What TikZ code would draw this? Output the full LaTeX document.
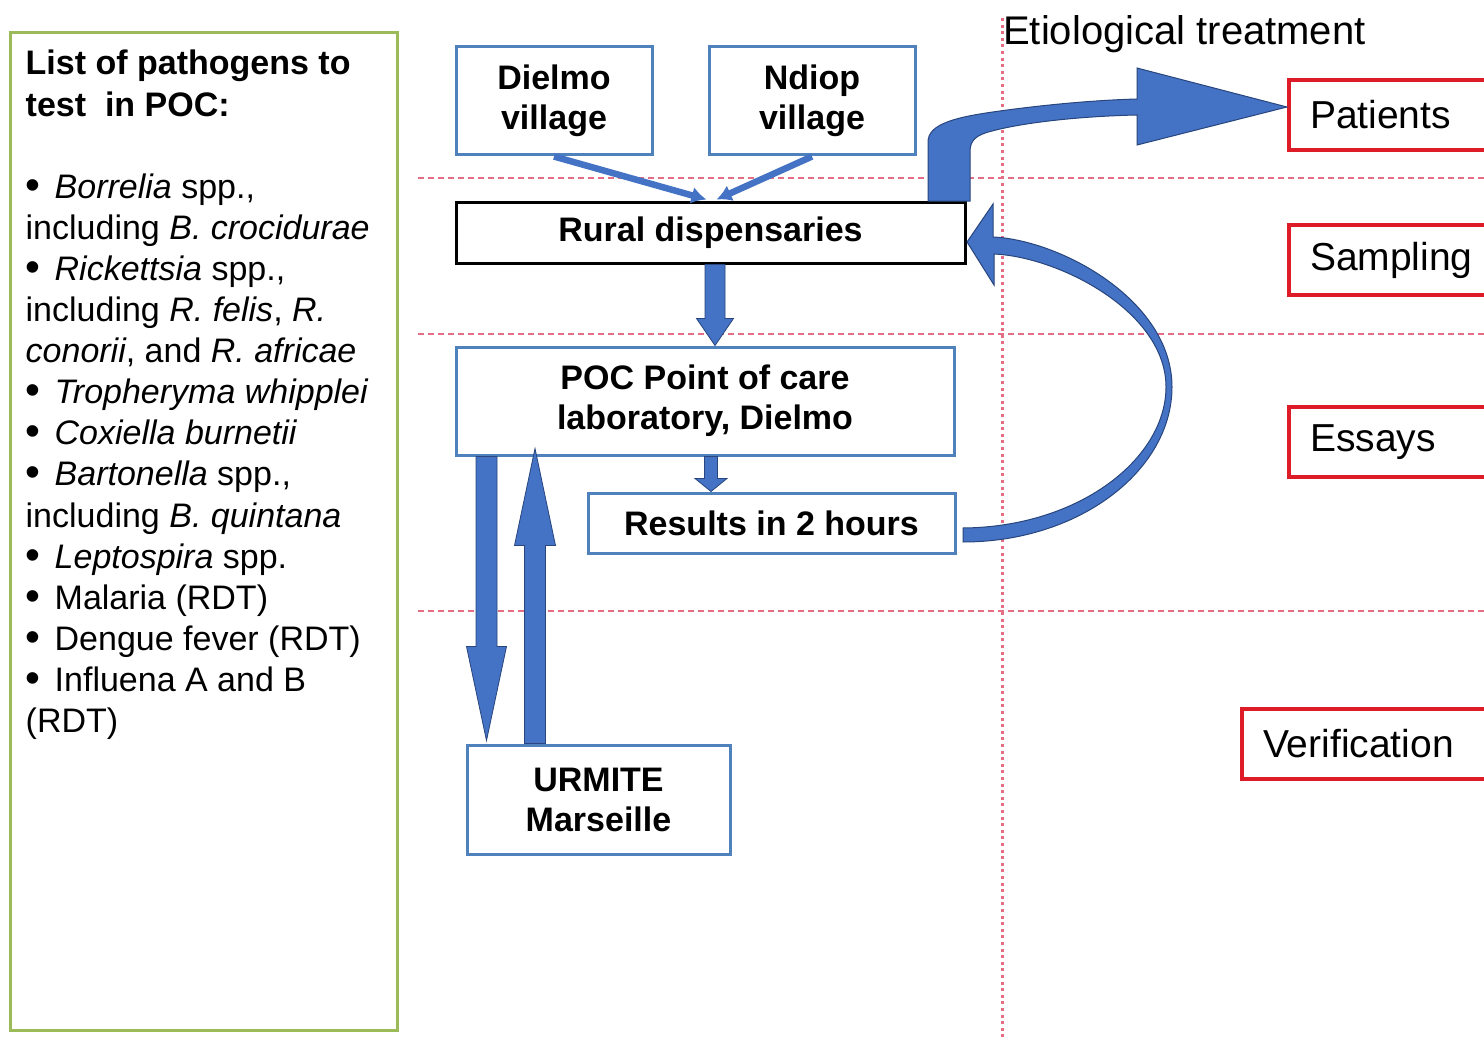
\documentclass[tikz,border=0pt]{standalone}
\usepackage{fontspec}
\setmainfont{Liberation Sans}
\usetikzlibrary{calc,arrows.meta}
\definecolor{boxblue}{RGB}{79,129,189}
\definecolor{arrblue}{RGB}{68,114,196}
\definecolor{arrdark}{RGB}{40,70,125}
\definecolor{boxgreen}{RGB}{155,187,89}
\definecolor{boxred}{RGB}{222,28,40}
\definecolor{guide}{RGB}{228,110,132}
\newcommand\pbul{\makebox[29pt][l]{\raisebox{-1pt}{\scalebox{1.25}{•}}}}
\newcommand\varrow[5]{\filldraw[blockarr] let \p1=#1, \p2=#2, \n1={sign(\y2-\y1)} in
 ({\x1-#3pt},\y1) -- ({\x1-#3pt},{\y2-(\n1)*#5pt}) -- ({\x1-#4pt},{\y2-(\n1)*#5pt}) -- (\x1,\y2) -- ({\x1+#4pt},{\y2-(\n1)*#5pt}) -- ({\x1+#3pt},{\y2-(\n1)*#5pt}) -- ({\x1+#3pt},\y1) -- cycle;}
\begin{document}
\begin{tikzpicture}[x=1pt,y=-1pt,
  bluebox/.style={draw=boxblue,line width=3pt,fill=white,inner sep=0pt,align=center,
     font=\bfseries\fontsize{34}{40}\selectfont},
  blackbox/.style={bluebox,draw=black},
  redbox/.style={draw=boxred,line width=3.5pt,fill=white,inner ysep=0pt,align=left,
     font=\fontsize{39}{44}\selectfont},
  hguide/.style={draw=guide,line width=1.6pt,dash pattern=on 6pt off 4pt},
  vguide/.style={draw=guide,line width=3pt,dash pattern=on 3pt off 3.6pt},
  thinarr/.style={draw=arrblue,line width=6.5pt,-{Latex[length=15pt,width=17pt]}},
  blockarr/.style={fill=arrblue,draw=arrdark,line width=0.8pt,line join=miter},
  curvearr/.style={fill=arrblue,draw=arrdark,line width=1pt,line join=miter}]
\useasboundingbox (0,0) rectangle (1484,1038);
\fill[white] (0,0) rectangle (1484,1038);
\clip (0,0) rectangle (1484,1038);

% guides
\draw[hguide] (418,178) -- (1484,178);
\draw[hguide] (418,334) -- (1484,334);
\draw[hguide] (418,611) -- (1484,611);
\draw[vguide] (1002,18) -- (1002,1038);

% left list
\node[draw=boxgreen,line width=3pt,minimum width=387,minimum height=997,inner sep=0pt] (listbox) at (203.5,531.5) {};
\node[anchor=base west,inner sep=0pt] (listtext) at (25.5,75) {\parbox[t]{370pt}{\fontsize{34}{41.1}\selectfont
\textbf{List of pathogens to}\\
\textbf{test~~in POC:}\\[41.1pt]
\pbul\textit{Borrelia} spp.,\\
including \textit{B. crocidurae}\\
\pbul\textit{Rickettsia} spp.,\\
including \textit{R. felis}, \textit{R.}\\
\textit{conorii}, and \textit{R. africae}\\
\pbul\textit{Tropheryma whipplei}\\
\pbul\textit{Coxiella burnetii}\\
\pbul\textit{Bartonella} spp.,\\
including \textit{B. quintana}\\
\pbul\textit{Leptospira} spp.\\
\pbul Malaria (RDT)\\
\pbul Dengue fever (RDT)\\
\pbul Influena A and B\\
(RDT)}};

% middle boxes
\node[bluebox,minimum width=196,minimum height=108] (dielmo) at (554,101) {Dielmo\\village};
\node[bluebox,minimum width=206,minimum height=108] (ndiop) at (812,101) {Ndiop\\village};
\node[blackbox,minimum width=509,minimum height=61] (rural) at (710.5,232.5) {Rural dispensaries};
\node[bluebox,minimum width=498,minimum height=108] (poc) at (705,401) {POC Point of care\\laboratory, Dielmo};
\node[bluebox,minimum width=367,minimum height=60] (results) at (771.5,523) {Results in 2 hours};
\node[bluebox,minimum width=263,minimum height=109] (urmite) at (598.5,799.5) {URMITE\\Marseille};

% right column
\node[anchor=base west,inner sep=0pt,font=\fontsize{40}{46}\selectfont] (etio) at (1003,45) {Etiological treatment};
\node[redbox,minimum width=271,minimum height=70,text width=229pt,inner xsep=21pt] (patients) at (1424.5,115) {Patients};
\node[redbox,minimum width=271,minimum height=70,text width=229pt,inner xsep=21pt] (sampling) at (1424.5,260) {Sampling};
\node[redbox,minimum width=271,minimum height=70,text width=229pt,inner xsep=21pt] (essays) at (1424.5,442) {Essays};
\node[redbox,minimum width=318,minimum height=70,text width=276pt,inner xsep=21pt] (verif) at (1401,744) {Verification};

% connectors
\draw[thinarr] (dielmo.south) -- ($(rural.north)+(-4,-1)$);
\draw[thinarr] (ndiop.south) -- ($(rural.north)+(6,-1)$);
\varrow{($(rural.south)+(4.5,0)$)}{(poc.north)}{10}{18.5}{27}
\varrow{($(poc.south)+(6,0)$)}{(results.north)}{6.5}{16}{13}
\varrow{($(poc.south west)+(32,0)$)}{($(urmite.north)+(0,-3)$)}{10.5}{20}{94}
\varrow{($(urmite.north west)+(69.5,0)$)}{($(poc.south)+(0,-8)$)}{10.5}{20.5}{97}

% rural -> patients
\filldraw[curvearr] (928,201) -- (928,142) .. controls (928,124) and (955,117) .. (1000,111)
  .. controls (1050,104) and (1100,100) .. (1137,99) -- (1137,68) -- (1287,107) -- (1137,145)
  -- (1137,115) .. controls (1090,116) and (1030,121) .. (992,131)
  .. controls (976,135) and (970,140) .. (970,152) -- (970,201) -- cycle;

% results -> rural
\filldraw[curvearr] (963,542) .. controls (1080,542) and (1172,470) .. (1172,387)
  .. controls (1172,300) and (1060,240) .. (993,237) -- (993,204) -- (967,242) -- (994,285)
  -- (994,254) .. controls (1060,257) and (1166,312) .. (1166,387)
  .. controls (1166,458) and (1080,527) .. (963,528) -- cycle;
\end{tikzpicture}
\end{document}
